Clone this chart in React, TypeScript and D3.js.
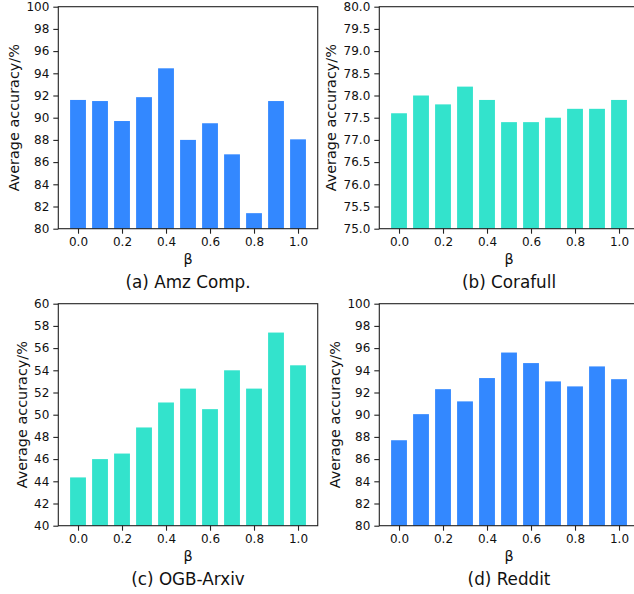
import React, { useEffect, useRef } from 'react';
import * as d3 from 'd3';

// beta values on the x axis
const betas = [0.0, 0.1, 0.2, 0.3, 0.4, 0.5, 0.6, 0.7, 0.8, 0.9, 1.0];
const xTicks = [0.0, 0.2, 0.4, 0.6, 0.8, 1.0];

// average accuracy per dataset
const amzComp = [91.6, 91.5, 89.7, 91.85, 94.45, 88.0, 89.5, 86.7, 81.4, 91.5, 88.05];
const corafull = [77.6, 78.0, 77.8, 78.2, 77.9, 77.4, 77.4, 77.5, 77.7, 77.7, 77.9];
const ogbArxiv = [44.35, 46.0, 46.5, 48.85, 51.1, 52.35, 50.5, 54.0, 52.35, 57.4, 54.45];
const reddit = [87.7, 90.05, 92.3, 91.2, 93.3, 95.6, 94.65, 93.0, 92.55, 94.35, 93.2];

const amzTicks = [80, 82, 84, 86, 88, 90, 92, 94, 96, 98, 100];
const coraTicks = [75.0, 75.5, 76.0, 76.5, 77.0, 77.5, 78.0, 78.5, 79.0, 79.5, 80.0];
const arxivTicks = [40, 42, 44, 46, 48, 50, 52, 54, 56, 58, 60];
const redditTicks = [80, 82, 84, 86, 88, 90, 92, 94, 96, 98, 100];

const BLUE = '#3388ff';
const TEAL = '#33e3cc';

const panels = [
    { title: '(a) Amz Comp.', values: amzComp, ticks: amzTicks, fmt: 'd', color: BLUE, left: 58.3, top: 6.7 },
    { title: '(b) Corafull', values: corafull, ticks: coraTicks, fmt: '.1f', color: TEAL, left: 379.3, top: 6.7 },
    { title: '(c) OGB-Arxiv', values: ogbArxiv, ticks: arxivTicks, fmt: 'd', color: TEAL, left: 58.3, top: 303.7 },
    { title: '(d) Reddit', values: reddit, ticks: redditTicks, fmt: 'd', color: BLUE, left: 379.3, top: 303.7 },
];

const FONT = '"DejaVu Sans", sans-serif';

export default function App() {
    const ref = useRef<SVGSVGElement | null>(null);

    useEffect(() => {
        const svg = d3.select(ref.current);
        svg.selectAll('*').remove();

        const barW = 0.072;
        const pad = 0.05 * (1 + barW);
        const xMin = -barW / 2 - pad;
        const xMax = 1 + barW / 2 + pad;
        const plotW = (xMax - xMin) * 220;
        const plotH = 222;

        panels.forEach(p => {
            const xScale = d3.scaleLinear()
                .domain([xMin, xMax])
                .range([p.left, p.left + plotW]);
            const yScale = d3.scaleLinear()
                .domain([p.ticks[0], p.ticks[p.ticks.length - 1]])
                .range([p.top + plotH, p.top]);

            const g = svg.append('g');

            // bars
            g.selectAll('rect.bar')
                .data(betas)
                .enter()
                .append('rect')
                .attr('class', 'bar')
                .attr('x', d => xScale(d - barW / 2))
                .attr('width', d => xScale(d + barW / 2) - xScale(d - barW / 2))
                .attr('y', (d, i) => yScale(p.values[i]))
                .attr('height', (d, i) => yScale(p.ticks[0]) - yScale(p.values[i]))
                .attr('fill', p.color);

            // frame
            g.append('rect')
                .attr('x', p.left)
                .attr('y', p.top)
                .attr('width', plotW)
                .attr('height', plotH)
                .attr('fill', 'none')
                .attr('stroke', '#222')
                .attr('stroke-width', 1.1);

            const yFmt = d3.format(p.fmt);
            const yAxis = d3.axisLeft(yScale)
                .tickValues(p.ticks)
                .tickFormat(d => yFmt(d as number))
                .tickSize(5)
                .tickPadding(4);
            const ya = g.append('g')
                .attr('transform', `translate(${p.left},0)`)
                .call(yAxis);

            const xAxis = d3.axisBottom(xScale)
                .tickValues(xTicks)
                .tickFormat(d => d3.format('.1f')(d as number))
                .tickSize(5)
                .tickPadding(4);
            const xa = g.append('g')
                .attr('transform', `translate(0,${p.top + plotH})`)
                .call(xAxis);

            [ya, xa].forEach(a => {
                a.select('.domain').remove();
                a.selectAll('line').attr('stroke', '#222').attr('stroke-width', 1.1);
                a.selectAll('text')
                    .attr('fill', '#111')
                    .style('font-family', FONT)
                    .style('font-size', '12px');
            });

            // y label sits left of the widest tick label
            const maxLen = d3.max(p.ticks, t => {
                const s = yFmt(t);
                return s.replace('.', '').length * 0.636 + (s.includes('.') ? 0.318 : 0);
            }) as number;
            const labelX = p.left - 9.8 - maxLen * 12 - 6.7;

            g.append('text')
                .attr('transform', `translate(${labelX},${p.top + plotH / 2}) rotate(-90)`)
                .attr('text-anchor', 'middle')
                .attr('fill', '#111')
                .style('font-family', FONT)
                .style('font-size', '14.4px')
                .text('Average accuracy/%');

            const cx = p.left + plotW / 2;
            g.append('text')
                .attr('x', cx)
                .attr('y', p.top + plotH + 34.8)
                .attr('text-anchor', 'middle')
                .attr('fill', '#111')
                .style('font-family', FONT)
                .style('font-size', '14.4px')
                .text('β');

            g.append('text')
                .attr('x', cx)
                .attr('y', p.top + plotH + 59.5)
                .attr('text-anchor', 'middle')
                .attr('fill', '#111')
                .style('font-family', FONT)
                .style('font-size', '16.8px')
                .text(p.title);
        });
    }, []);

    return (
        <svg
            ref={ref}
            width={634}
            height={594}
            style={{ position: 'absolute', left: 0, top: 0, background: '#fff' }}
        />
    );
}
